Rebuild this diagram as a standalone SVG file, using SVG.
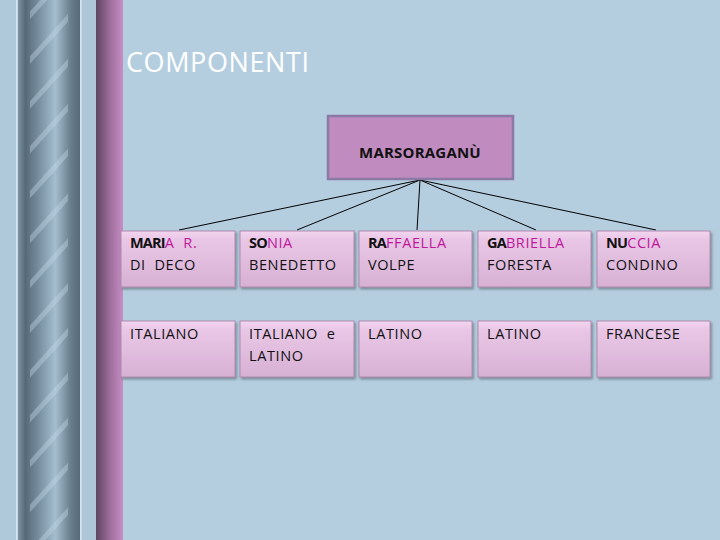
<svg xmlns="http://www.w3.org/2000/svg" width="720" height="540" viewBox="0 0 720 540">
<defs>
<linearGradient id="rod" x1="0" y1="0" x2="1" y2="0">
<stop offset="0" stop-color="#7d93a2"/>
<stop offset="0.12" stop-color="#56697a"/>
<stop offset="0.45" stop-color="#8aa3b4"/>
<stop offset="0.6" stop-color="#a5becf"/>
<stop offset="0.85" stop-color="#687e8d"/>
<stop offset="1" stop-color="#566a77"/>
</linearGradient>
<linearGradient id="purp" x1="0" y1="0" x2="1" y2="0">
<stop offset="0" stop-color="#5e4563"/>
<stop offset="0.5" stop-color="#9c6c9a"/>
<stop offset="1" stop-color="#c78ec4"/>
</linearGradient>
<linearGradient id="box" x1="0" y1="0" x2="0" y2="1">
<stop offset="0" stop-color="#f3d6f0"/>
<stop offset="0.15" stop-color="#e9c6e6"/>
<stop offset="1" stop-color="#d7b1d4"/>
</linearGradient>
<pattern id="stripes" width="40" height="30" patternUnits="userSpaceOnUse" patternTransform="rotate(-48)">
<rect x="0" y="0" width="40" height="5" fill="#c4d8e6" opacity="0.4"/>
</pattern>
<filter id="sh" x="-10%" y="-10%" width="130%" height="140%">
<feDropShadow dx="1.5" dy="2" stdDeviation="1.2" flood-color="#50606a" flood-opacity="0.6"/>
</filter>
</defs>
<style>
.t{font-family:"Open Sans","Liberation Sans",sans-serif;font-size:14.5px;fill:#111;letter-spacing:0.6px;white-space:pre}
.b{font-weight:bold;letter-spacing:-0.8px}
.p{fill:#c0189a}
.bx{fill:url(#box);stroke:#b08aae;stroke-width:1}
.ln{stroke:#000;stroke-width:1;fill:none}
</style>
<rect width="720" height="540" fill="#b5cedf"/>
<g id="decor">
<rect x="0" y="0" width="17" height="540" fill="#b0c9da"/>
<rect x="16" y="0" width="1.5" height="540" fill="#d6e6f0"/>
<rect x="18" y="0" width="62" height="540" fill="url(#rod)"/>
<rect x="30" y="0" width="38" height="540" fill="url(#stripes)"/>
<rect x="80" y="0" width="1.5" height="540" fill="#d6e6f0"/>
<rect x="82" y="0" width="14" height="540" fill="#aec6d7"/>
<rect x="96" y="0" width="27" height="540" fill="url(#purp)"/>
</g>
<text x="126" y="72" style="font-family:'Open Sans','Liberation Sans',sans-serif;font-size:27px;fill:#ffffff;letter-spacing:0.6px">COMPONENTI</text>
<g id="connectors">
<line class="ln" x1="420" y1="180" x2="179" y2="230"/>
<line class="ln" x1="420" y1="180" x2="297" y2="230"/>
<line class="ln" x1="420" y1="180" x2="417" y2="230"/>
<line class="ln" x1="420" y1="180" x2="536" y2="230"/>
<line class="ln" x1="420" y1="180" x2="656" y2="230"/>
</g>
<g id="root">
<rect x="328" y="116" width="185" height="63" fill="#c08bbf" stroke="#8c7aa6" stroke-width="2.5"/>
<text x="420" y="158" text-anchor="middle" style="font-family:'Open Sans','Liberation Sans',sans-serif;font-size:15px;font-weight:bold;fill:#111;letter-spacing:0.2px">MARSORAGANÙ</text>
</g>
<g id="n1"><rect class="bx" x="121" y="231" width="114" height="56" filter="url(#sh)"/>
<text class="t" x="130" y="248" xml:space="preserve"><tspan class="b">MARI</tspan><tspan class="p">A  R.</tspan></text>
<text class="t" x="130" y="270" xml:space="preserve">DI  DECO</text></g>
<g id="n2"><rect class="bx" x="240" y="231" width="114" height="56" filter="url(#sh)"/>
<text class="t" x="249" y="248"><tspan class="b">SO</tspan><tspan class="p">NIA</tspan></text>
<text class="t" x="249" y="270">BENEDETTO</text></g>
<g id="n3"><rect class="bx" x="359" y="231" width="113" height="56" filter="url(#sh)"/>
<text class="t" x="368" y="248"><tspan class="b">RA</tspan><tspan class="p">FFAELLA</tspan></text>
<text class="t" x="368" y="270">VOLPE</text></g>
<g id="n4"><rect class="bx" x="478" y="231" width="113" height="56" filter="url(#sh)"/>
<text class="t" x="487" y="248"><tspan class="b">GA</tspan><tspan class="p">BRIELLA</tspan></text>
<text class="t" x="487" y="270">FORESTA</text></g>
<g id="n5"><rect class="bx" x="597" y="231" width="113" height="56" filter="url(#sh)"/>
<text class="t" x="606" y="248"><tspan class="b">NU</tspan><tspan class="p">CCIA</tspan></text>
<text class="t" x="606" y="270">CONDINO</text></g>
<g id="n6"><rect class="bx" x="121" y="321" width="114" height="56" filter="url(#sh)"/>
<text class="t" x="130" y="339">ITALIANO</text></g>
<g id="n7"><rect class="bx" x="240" y="321" width="114" height="56" filter="url(#sh)"/>
<text class="t" x="249" y="339" xml:space="preserve">ITALIANO  e</text>
<text class="t" x="249" y="361">LATINO</text></g>
<g id="n8"><rect class="bx" x="359" y="321" width="113" height="56" filter="url(#sh)"/>
<text class="t" x="368" y="339">LATINO</text></g>
<g id="n9"><rect class="bx" x="478" y="321" width="113" height="56" filter="url(#sh)"/>
<text class="t" x="487" y="339">LATINO</text></g>
<g id="n10"><rect class="bx" x="597" y="321" width="113" height="56" filter="url(#sh)"/>
<text class="t" x="606" y="339">FRANCESE</text></g>
</svg>
